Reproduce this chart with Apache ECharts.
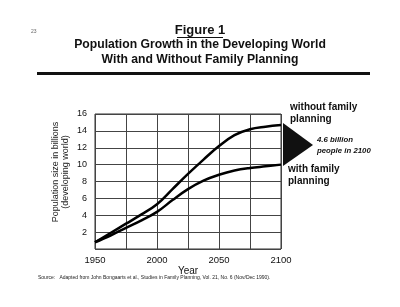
<!DOCTYPE html>
<html>
<head>
<meta charset="utf-8">
<script src="https://cdn.jsdelivr.net/npm/echarts@6/dist/echarts.min.js"></script>
<style>
  html, body { margin: 0; padding: 0; background: #fff; }
  #chart { width: 400px; height: 307px; }
</style>
</head>
<body>
<div id="chart"></div>
<script>
// Data (billions, developing world)
const years = [1950, 1962.5, 1975, 1987.5, 2000, 2012.5, 2025, 2037.5, 2050, 2062.5, 2075, 2087.5, 2100]
const withoutFP = [0.8, 1.9, 3.0, 4.1, 5.3, 7.1, 8.9, 10.6, 12.2, 13.5, 14.2, 14.5, 14.7]
const withFP = [0.8, 1.6, 2.5, 3.4, 4.4, 5.8, 7.1, 8.1, 8.8, 9.3, 9.6, 9.8, 10.0]
const xLabels = [1950, 2000, 2050, 2100]

const FONT = '"Liberation Sans", Arial, sans-serif'

const chart = echarts.init(document.getElementById('chart'))

const pair = (xs, ys) => xs.map((x, i) => [x, ys[i]])

chart.setOption({
  animation: false,
  backgroundColor: '#fff',
  grid: { left: 95, right: 119, top: 114, bottom: 58, show: true, borderColor: '#333', borderWidth: 1 },
  xAxis: {
    type: 'value',
    min: 1950,
    max: 2100,
    interval: 25,
    name: 'Year',
    nameLocation: 'middle',
    nameGap: 12,
    nameTextStyle: { fontFamily: FONT, fontSize: 10, color: '#111' },
    axisLine: { show: false },
    axisTick: { show: false },
    axisLabel: {
      fontFamily: FONT, fontSize: 9.5, color: '#111', margin: 6,
      formatter: v => (xLabels.includes(v) ? String(v) : '')
    },
    splitLine: { show: true, lineStyle: { color: '#444', width: 1 } }
  },
  yAxis: {
    type: 'value',
    min: 0,
    max: 16,
    interval: 2,
    axisLine: { show: false },
    axisTick: { show: false },
    axisLabel: {
      fontFamily: FONT, fontSize: 9, color: '#111', margin: 8,
      formatter: v => (v === 0 ? '' : String(v))
    },
    splitLine: { show: true, lineStyle: { color: '#444', width: 1 } }
  },
  series: [
    {
      name: 'without family planning',
      type: 'line',
      data: pair(years, withoutFP),
      smooth: 0.4,
      symbol: 'none',
      lineStyle: { color: '#000', width: 2.5 }
    },
    {
      name: 'with family planning',
      type: 'line',
      data: pair(years, withFP),
      smooth: 0.4,
      symbol: 'none',
      lineStyle: { color: '#000', width: 2.5 }
    }
  ],
  graphic: [
    // page number
    { type: 'text', left: 31, top: 29, style: { text: '23', font: '5px ' + FONT, fill: '#666' } },
    // titles
    { type: 'text', left: 'center', top: 24, style: { text: 'Figure 1', font: 'bold 13px ' + FONT, fill: '#111' } },
    { type: 'line', shape: { x1: 177, y1: 37.5, x2: 223, y2: 37.5 }, style: { stroke: '#111', lineWidth: 1 } },
    { type: 'text', left: 'center', top: 39, style: { text: 'Population Growth in the Developing World', font: 'bold 12.2px ' + FONT, fill: '#111' } },
    { type: 'text', left: 'center', top: 54, style: { text: 'With and Without Family Planning', font: 'bold 12.2px ' + FONT, fill: '#111' } },
    { type: 'rect', shape: { x: 37, y: 72, width: 333, height: 3 }, style: { fill: '#111' } },
    // y axis title (two lines, rotated)
    {
      type: 'text', x: 61, y: 172, rotation: Math.PI / 2,
      style: {
        text: 'Population size in billions\n(developing world)',
        font: '9px ' + FONT, fill: '#222', align: 'center', verticalAlign: 'middle', lineHeight: 10
      }
    },
    // right-hand annotations
    { type: 'text', left: 290, top: 101, style: { text: 'without family\nplanning', font: 'bold 10px ' + FONT, fill: '#111', lineHeight: 12 } },
    { type: 'polygon', shape: { points: [[283, 123], [283, 166], [313, 145]] }, style: { fill: '#111' } },
    { type: 'text', left: 317, top: 134, style: { text: '4.6 billion\npeople in 2100', font: 'italic bold 7.8px ' + FONT, fill: '#111', lineHeight: 11.5 } },
    { type: 'text', left: 288, top: 163, style: { text: 'with family\nplanning', font: 'bold 10px ' + FONT, fill: '#111', lineHeight: 12 } },
    // source line
    {
      type: 'text', left: 38, top: 275,
      style: {
        text: '{a|Source:   Adapted from John Bongaarts et al., }{u|Studies in Family Planning}{a|, Vol. 21, No. 6 (Nov/Dec 1990).}',
        rich: {
          a: { font: '5px ' + FONT, fill: '#222' },
          u: { font: '5px ' + FONT, fill: '#222' }
        }
      }
    }
  ]
})
</script>
</body>
</html>
